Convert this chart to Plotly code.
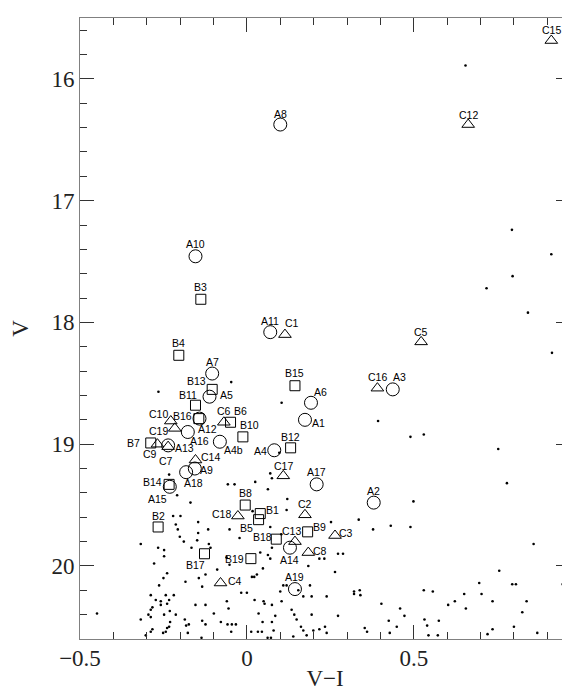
import plotly.graph_objects as go

# ---------------- data ----------------
A_names = ["A1", "A2", "A3", "A4", "A4b", "A5", "A6", "A7", "A8", "A9", "A10",
           "A11", "A12", "A13", "A14", "A15", "A16", "A17", "A18", "A19"]
A_vi = [0.174, 0.380, 0.437, 0.082, -0.081, -0.112, 0.192, -0.104, 0.100, -0.156, -0.154,
        0.070, -0.142, -0.236, 0.129, -0.231, -0.177, 0.209, -0.182, 0.144]
A_v = [18.80, 19.48, 18.55, 19.05, 18.98, 18.61, 18.66, 18.42, 16.375, 19.20, 17.457,
       18.08, 18.79, 19.01, 19.85, 19.35, 18.90, 19.33, 19.23, 20.19]

B_names = ["B1", "B2", "B3", "B4", "B5", "B6", "B7", "B8", "B9", "B10", "B11",
           "B12", "B13", "B14", "B15", "B16", "B17", "B18", "B19"]
B_vi = [0.040, -0.266, -0.138, -0.204, 0.035, -0.049, -0.288, -0.005, 0.182, -0.012, -0.154,
        0.131, -0.104, -0.233, 0.144, -0.144, -0.127, 0.088, 0.012]
B_v = [19.57, 19.68, 17.81, 18.27, 19.62, 18.82, 18.99, 19.50, 19.72, 18.94, 18.68,
       19.03, 18.55, 19.33, 18.52, 18.79, 19.90, 19.78, 19.94]

C_names = ["C1", "C2", "C3", "C4", "C5", "C6", "C7", "C8", "C9", "C10", "C12",
           "C13", "C14", "C15", "C16", "C17", "C18", "C19"]
C_vi = [0.114, 0.174, 0.264, -0.079, 0.522, -0.069, -0.236, 0.184, -0.268, -0.228, 0.663,
        0.144, -0.154, 0.912, 0.391, 0.109, -0.027, -0.216]
C_v = [18.10, 19.58, 19.75, 20.14, 18.16, 18.82, 19.02, 19.89, 19.00, 18.81, 16.375,
       19.80, 19.13, 15.685, 18.54, 19.26, 19.59, 18.87]

field_vi = [0.655, 0.794, 0.912, 0.796, 0.718, 0.842, 0.914, 0.965, 0.753, 0.779, 0.859,
            0.756, 0.696, 0.795, 0.806, 0.946, 0.703, 0.955,
            0.104, 0.393, 0.490, 0.530, 0.097, 0.070, 0.075, 0.025, 0.063, 0.121, 0.119,
            0.499, 0.335, 0.378, 0.431, 0.490, 0.252,
            -0.047, -0.265, -0.233, -0.057, -0.037,
            -0.209, -0.169, 0.017, -0.221, -0.199, -0.052, -0.213, -0.207, -0.146, -0.146,
            -0.116, -0.022, -0.201, -0.189, -0.149, -0.114, -0.109, -0.318, -0.266, -0.248,
            -0.166, -0.248, 0.075, 0.063, 0.070, 0.103, 0.070, 0.040, 0.048, 0.030, 0.015,
            0.022, -0.061, -0.052, -0.089, -0.124, -0.144, -0.134, -0.184, -0.239, -0.250,
            -0.278, -0.263, -0.288, -0.273, -0.258, -0.258, -0.243, -0.219, -0.233, -0.239,
            -0.154, -0.124, -0.060, -0.017, 0.000, 0.023, 0.050, 0.075, 0.100, 0.109, 0.119,
            0.154, 0.169, 0.189, 0.194, 0.239, 0.184, 0.217, 0.232, 0.264, 0.273, 0.288,
            0.321, 0.321, -0.318, -0.295, -0.288, -0.248,
            -0.449, -0.283, -0.231, -0.288, -0.213, -0.230, -0.303, -0.288, -0.283, -0.251,
            -0.243, -0.239, -0.233, -0.186, -0.174, -0.182, -0.177, -0.134, -0.124, -0.136,
            -0.099, -0.078, -0.055, -0.058, -0.045, -0.033, -0.047, 0.035, 0.053, 0.047,
            0.075, 0.085, 0.104, 0.080, 0.013, 0.033, 0.045, 0.062, 0.072, 0.134, 0.142,
            0.149, 0.162, 0.169, 0.179, 0.139, 0.194, 0.199, 0.217, 0.234, 0.239, 0.273,
            0.338, 0.340, 0.353, 0.360, 0.403, 0.425, 0.428, 0.449, 0.459, 0.472,
            0.530, 0.557, 0.532, 0.540, 0.575, 0.544, 0.572, 0.603, 0.623, 0.651, 0.656,
            0.736, 0.721, 0.736, 0.800, 0.825, 0.838, 0.870]
field_v = [15.89, 17.24, 17.44, 17.62, 17.72, 17.92, 18.25, 18.38, 19.04, 19.32, 19.82,
           20.04, 20.14, 20.15, 20.15, 20.15, 20.23, 20.25,
           18.66, 18.81, 18.94, 18.92, 19.07, 19.24, 19.28, 19.31, 19.37, 19.45, 19.54,
           19.47, 19.62, 19.70, 19.67, 19.68, 19.64,
           18.49, 18.57, 19.25, 19.33, 19.33,
           19.42, 19.48, 19.55, 19.59, 19.59, 19.70, 19.66, 19.70, 19.64, 19.73,
           19.70, 19.77, 19.76, 19.80, 19.79, 19.82, 19.85, 19.82, 19.85, 19.87,
           19.85, 19.92, 19.85, 19.91, 19.94, 19.74, 19.68, 19.89, 20.02, 20.07, 20.09,
           20.09, 19.93, 19.99, 20.03, 20.07, 20.10, 20.17, 20.13, 20.06, 20.10,
           19.98, 20.16, 20.24, 20.28, 20.29, 20.32, 20.24, 20.24, 20.28, 20.31,
           20.32, 20.32, 20.29, 20.22, 20.22, 20.28, 20.29, 20.32, 20.21, 20.16, 20.16,
           20.20, 20.25, 20.16, 20.25, 20.25, 20.00, 19.94, 19.94, 20.05, 19.90, 19.90,
           20.21, 20.23, 20.44, 20.40, 20.36, 20.40,
           20.39, 20.34, 20.37, 20.42, 20.40, 20.46, 20.57, 20.54, 20.52, 20.55,
           20.54, 20.51, 20.50, 20.44, 20.48, 20.49, 20.55, 20.45, 20.48, 20.59,
           20.39, 20.46, 20.35, 20.48, 20.48, 20.48, 20.54, 20.39, 20.31, 20.46,
           20.46, 20.41, 20.29, 20.53, 20.54, 20.54, 20.54, 20.59, 20.59, 20.36, 20.40,
           20.44, 20.50, 20.53, 20.57, 20.58, 20.40, 20.53, 20.52, 20.50, 20.55, 20.41,
           20.20, 20.24, 20.51, 20.54, 20.31, 20.45, 20.55, 20.50, 20.35, 20.41,
           20.20, 20.21, 20.44, 20.49, 20.45, 20.57, 20.57, 20.32, 20.29, 20.23, 20.35,
           20.29, 20.56, 20.52, 20.50, 20.38, 20.29, 20.55]

x_ticks = [-0.5, 0, 0.5]
y_ticks = [16, 17, 18, 19, 20]

# label offsets in pixels (dx right, dy up) -- styling only
LABEL_OFFSETS = {
    "A1": (14, -3), "A2": (0, 12), "A3": (7, 12), "A4": (-14, -1), "A4b": (14, -8),
    "A5": (17, 2), "A6": (10, 11), "A7": (0, 12), "A8": (0, 11), "A9": (12, -1),
    "A10": (0, 12), "A11": (0, 11), "A12": (8, -10), "A13": (16, -3), "A14": (0, -12),
    "A15": (-12, -12), "A16": (12, -9), "A17": (0, 12), "A18": (7, -11), "A19": (0, 12),
    "B1": (12, 4), "B2": (0, 11), "B3": (0, 12), "B4": (0, 12), "B5": (-12, -8),
    "B6": (10, 11), "B7": (-17, 0), "B8": (0, 12), "B9": (12, 5), "B10": (7, 12),
    "B11": (-7, 10), "B12": (0, 11), "B13": (-16, 8), "B14": (-17, 2), "B15": (0, 13),
    "B16": (-16, 3), "B17": (-9, -11), "B18": (-14, 2), "B19": (-16, 0),
    "C1": (7, 12), "C2": (0, 11), "C3": (11, 3), "C4": (14, 2), "C5": (0, 10),
    "C6": (0, 11), "C7": (-2, -14), "C8": (12, 2), "C9": (-7, -10), "C10": (-12, 7),
    "C12": (0, 10), "C13": (-3, 11), "C14": (15, 3), "C15": (0, 11), "C16": (0, 11),
    "C17": (0, 10), "C18": (-16, 2), "C19": (-16, -3),
}

fig = go.Figure()

fig.add_trace(go.Scatter(x=field_vi, y=field_v, mode="markers",
                         marker=dict(symbol="circle", size=2.6, color="black"),
                         hoverinfo="skip", showlegend=False))
fig.add_trace(go.Scatter(x=A_vi, y=A_v, mode="markers", text=A_names,
                         marker=dict(symbol="circle-open", size=13, color="black",
                                     line=dict(width=1, color="black")),
                         showlegend=False))
fig.add_trace(go.Scatter(x=B_vi, y=B_v, mode="markers", text=B_names,
                         marker=dict(symbol="square-open", size=10, color="black",
                                     line=dict(width=1, color="black")),
                         showlegend=False))
fig.add_trace(go.Scatter(x=C_vi, y=C_v, mode="markers", text=C_names,
                         marker=dict(symbol="triangle-up-open", size=11, color="black",
                                     line=dict(width=1, color="black")),
                         showlegend=False))

annotations = []
for names, xs, ys in [(A_names, A_vi, A_v), (B_names, B_vi, B_v), (C_names, C_vi, C_v)]:
    for n, xv, yv in zip(names, xs, ys):
        dx, dy = LABEL_OFFSETS.get(n, (0, 11))
        annotations.append(dict(x=xv, y=yv, xref="x", yref="y", text=n, showarrow=False,
                                xanchor="center", yanchor="middle", xshift=dx, yshift=dy,
                                font=dict(family="Liberation Sans, Arial", size=10.5,
                                          color="black")))

axis_common = dict(showgrid=False, zeroline=False, showline=True, linecolor="#808080",
                   linewidth=1, mirror="allticks", ticks="inside", tickcolor="#333333",
                   tickwidth=1, ticklen=14,
                   tickfont=dict(family="Liberation Serif, DejaVu Serif", size=23,
                                 color="#222222"))

fig.update_layout(
    width=570, height=691,
    margin=dict(l=71, r=7, t=10, b=60),
    paper_bgcolor="white", plot_bgcolor="white",
    annotations=annotations,
    xaxis=dict(range=[-0.5, 0.968], tickmode="array", tickvals=x_ticks,
               ticklabelstandoff=-2,
               minor=dict(dtick=0.1, tick0=0, ticks="inside", ticklen=7, tickcolor="#333333"),
               title=dict(text="V\u2212I", standoff=0,
                          font=dict(family="Liberation Serif, DejaVu Serif", size=23,
                                    color="#222222")),
               **axis_common),
    yaxis=dict(range=[20.6, 15.5], tickmode="array", tickvals=y_ticks,
               minor=dict(dtick=0.2, tick0=0, ticks="inside", ticklen=7, tickcolor="#333333"),
               title=dict(text="V", standoff=20,
                          font=dict(family="Liberation Serif, DejaVu Serif", size=23,
                                    color="#222222")),
               **axis_common),
)

fig.write_html("out.html")
